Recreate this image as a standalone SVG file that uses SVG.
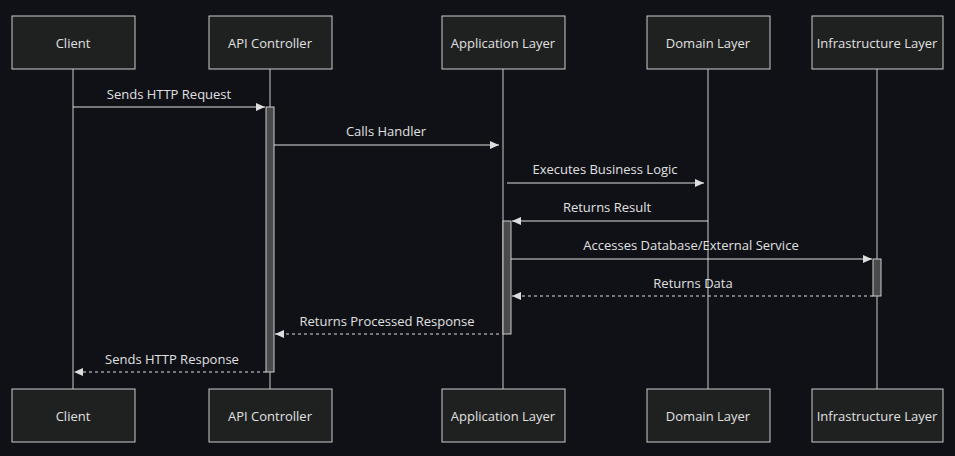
<svg xmlns="http://www.w3.org/2000/svg" width="955" height="456" viewBox="0 0 955 456">
<style>
.box{fill:#1f2020;stroke:#cccccc;stroke-width:1}
.t{font-family:"Open Sans","Liberation Sans",sans-serif;font-size:13px;fill:#e0e0e0;text-anchor:middle;dominant-baseline:central}
.life{stroke:#cccccc;stroke-width:1}
.act{fill:#4a4a4a;stroke:#cccccc;stroke-width:1}
.m{stroke:#dddddd;stroke-width:1.2;fill:none;marker-end:url(#ah)}
.d{stroke-dasharray:3 3}
</style>
<defs><marker id="ah" markerWidth="10" markerHeight="10" refX="9" refY="5" orient="auto" markerUnits="userSpaceOnUse"><path d="M0,1 L9,5 L0,9 z" fill="#dddddd"/></marker></defs>
<rect width="955" height="456" fill="#0f1117"/>
<g id="lifelines">
<line class="life" x1="73" y1="69" x2="73" y2="389"/>
<line class="life" x1="270" y1="69" x2="270" y2="389"/>
<line class="life" x1="503" y1="69" x2="503" y2="389"/>
<line class="life" x1="708" y1="69" x2="708" y2="389"/>
<line class="life" x1="877" y1="69" x2="877" y2="389"/>
</g>
<g id="activations">
<rect class="act" x="266" y="107" width="8" height="265"/>
<rect class="act" x="503" y="221" width="8" height="113"/>
<rect class="act" x="873" y="259" width="8" height="37"/>
</g>
<g id="client"><rect class="box" x="12" y="16" width="123" height="53"/><text class="t" x="73" y="43">Client</text><rect class="box" x="12" y="389" width="123" height="53"/><text class="t" x="73" y="416">Client</text></g>
<g id="api"><rect class="box" x="209" y="16" width="123" height="53"/><text class="t" x="270" y="43">API Controller</text><rect class="box" x="209" y="389" width="123" height="53"/><text class="t" x="270" y="416">API Controller</text></g>
<g id="app"><rect class="box" x="442" y="16" width="123" height="53"/><text class="t" x="503" y="43">Application Layer</text><rect class="box" x="442" y="389" width="123" height="53"/><text class="t" x="503" y="416">Application Layer</text></g>
<g id="domain"><rect class="box" x="647" y="16" width="123" height="53"/><text class="t" x="708" y="43">Domain Layer</text><rect class="box" x="647" y="389" width="123" height="53"/><text class="t" x="708" y="416">Domain Layer</text></g>
<g id="infra"><rect class="box" x="812" y="16" width="131" height="53"/><text class="t" x="877" y="43">Infrastructure Layer</text><rect class="box" x="812" y="389" width="131" height="53"/><text class="t" x="877" y="416">Infrastructure Layer</text></g>
<g id="connectors">
<line class="m" x1="73" y1="107" x2="265" y2="107"/><text class="t" x="169" y="94">Sends HTTP Request</text>
<line class="m" x1="274" y1="145" x2="499" y2="145"/><text class="t" x="386" y="131">Calls Handler</text>
<line class="m" x1="507" y1="183" x2="704" y2="183"/><text class="t" x="605" y="169">Executes Business Logic</text>
<line class="m" x1="708" y1="221" x2="512" y2="221"/><text class="t" x="607" y="207">Returns Result</text>
<line class="m" x1="511" y1="259" x2="872" y2="259"/><text class="t" x="691" y="245">Accesses Database/External Service</text>
<line class="m d" x1="873" y1="296" x2="512" y2="296"/><text class="t" x="693" y="283">Returns Data</text>
<line class="m d" x1="499" y1="334" x2="275" y2="334"/><text class="t" x="387" y="321">Returns Processed Response</text>
<line class="m d" x1="266" y1="372" x2="74" y2="372"/><text class="t" x="172" y="359">Sends HTTP Response</text>
</g>
</svg>
